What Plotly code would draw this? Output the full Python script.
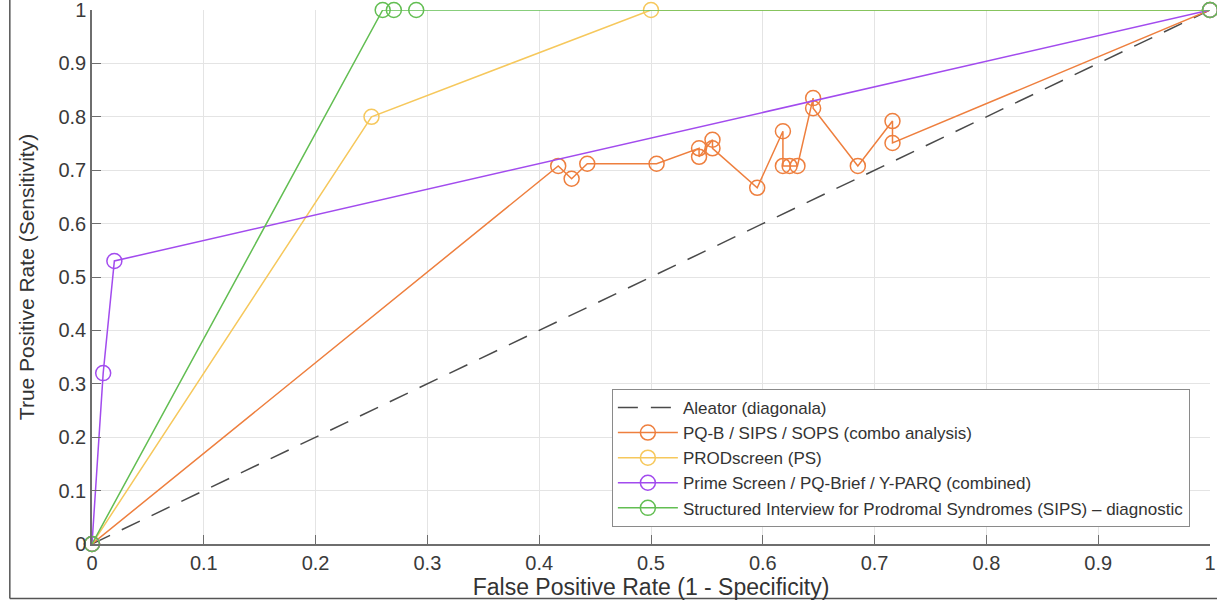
import plotly.graph_objects as go

# ---- data ----
diag_x = [0, 1]
diag_y = [0, 1]

pq_fpr = [0, 0.417, 0.429, 0.443, 0.505, 0.543, 0.543, 0.555, 0.555, 0.595,
          0.618, 0.618, 0.624, 0.631, 0.645, 0.645, 0.685, 0.716, 0.716, 1]
pq_tpr = [0, 0.708, 0.684, 0.712, 0.712, 0.741, 0.725, 0.757, 0.741, 0.667,
          0.773, 0.708, 0.708, 0.708, 0.835, 0.816, 0.708, 0.792, 0.751, 1]

ps_fpr = [0, 0.25, 0.5, 1]
ps_tpr = [0, 0.80, 1.0, 1]

prime_fpr = [0, 0.01, 0.02, 1]
prime_tpr = [0, 0.32, 0.53, 1]

sips_fpr = [0, 0.26, 0.27, 0.29, 1]
sips_tpr = [0, 1.0, 1.0, 1.0, 1]

names = ["Aleator (diagonala)",
         "PQ-B / SIPS / SOPS (combo analysis)",
         "PRODscreen (PS)",
         "Prime Screen / PQ-Brief / Y-PARQ (combined)",
         "Structured Interview for Prodromal Syndromes (SIPS) – diagnostic"]

x_ticks = [0, 0.1, 0.2, 0.3, 0.4, 0.5, 0.6, 0.7, 0.8, 0.9, 1]
x_ticklabels = ["0", "0.1", "0.2", "0.3", "0.4", "0.5", "0.6", "0.7", "0.8", "0.9", "1"]
y_ticks = x_ticks
y_ticklabels = x_ticklabels

colors = ["#4a4a4a", "#EE7F3E", "#F6C85C", "#A24BEE", "#62BE52"]

FONT = "Liberation Sans, Arial, sans-serif"

fig = go.Figure()
fig.add_trace(go.Scatter(x=diag_x, y=diag_y, mode="lines", name=names[0],
                         line=dict(color=colors[0], width=1.5, dash="20px,13px"),
                         cliponaxis=False))
series = [(pq_fpr, pq_tpr), (ps_fpr, ps_tpr), (prime_fpr, prime_tpr), (sips_fpr, sips_tpr)]
for i, (xs, ys) in enumerate(series):
    fig.add_trace(go.Scatter(x=xs, y=ys, mode="lines+markers", name=names[i + 1],
                             line=dict(color=colors[i + 1], width=1.5),
                             marker=dict(symbol="circle-open", size=15,
                                         color=colors[i + 1], line=dict(width=1.5)),
                             cliponaxis=False))

axis_common = dict(range=[0, 1], showgrid=True, gridcolor="#E4E4E4", gridwidth=1,
                   showline=True, linecolor="#6e6e6e", linewidth=1.5,
                   ticks="inside", ticklen=9, tickcolor="#6e6e6e", tickwidth=1.2,
                   zeroline=False, tickfont=dict(family=FONT, size=20, color="#3a3a3a"),
                   fixedrange=True, automargin=False, ticklabeloverflow="allow")

fig.update_xaxes(**axis_common, tickvals=x_ticks, ticktext=x_ticklabels,
                 title=dict(text="False Positive Rate (1 - Specificity)",
                            font=dict(family=FONT, size=23, color="#333333"), standoff=4))
fig.update_yaxes(**axis_common, tickvals=y_ticks, ticktext=y_ticklabels,
                 title=dict(text="True Positive Rate (Sensitivity)",
                            font=dict(family=FONT, size=21, color="#333333"), standoff=18))

# outer frame lines (left and bottom border of the image)
fig.add_shape(type="line", xref="paper", yref="paper", x0=-0.0735, x1=-0.0735, y0=-0.102, y1=1.02,
              line=dict(color="#555555", width=1.5))
fig.add_shape(type="line", xref="paper", yref="paper", x0=-0.0735, x1=1.01, y0=-0.102, y1=-0.102,
              line=dict(color="#555555", width=1.5))

fig.update_layout(
    width=1217, height=605,
    margin=dict(l=92, r=7, t=10, b=61),
    paper_bgcolor="white", plot_bgcolor="white",
    font=dict(family=FONT, color="#333333"),
    legend=dict(x=0.982, y=0.032, xanchor="right", yanchor="bottom",
                bgcolor="white", bordercolor="#8a8a8a", borderwidth=1,
                font=dict(family=FONT, size=17, color="#333333"),
                tracegroupgap=0, itemwidth=60),
    showlegend=True,
)

fig.write_html("out.html", config={"displayModeBar": False})
